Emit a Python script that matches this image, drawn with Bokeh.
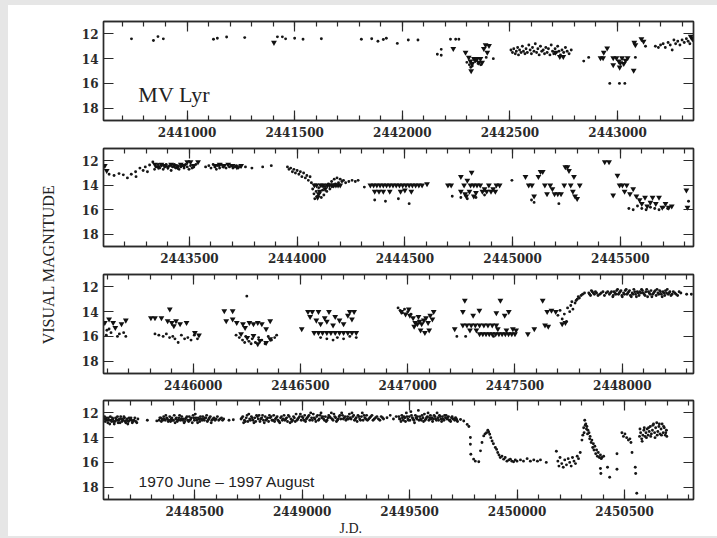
from math import pi
from bokeh.plotting import figure
from bokeh.layouts import row, column
from bokeh.models import (Range1d, LinearAxis, SingleIntervalTicker, FixedTicker,
                          BasicTickFormatter, Label, Title, CustomLabelingPolicy)
from bokeh.embed import file_html
from bokeh.resources import INLINE

JD0 = 2440000

# ---------------- data: (JD - 2440000, visual magnitude) ----------------
p1_dots = [
    (742, 12.40), (844, 12.53), (865, 12.22), (890, 12.40), (1123, 12.43), (1141, 12.35),
    (1184, 12.25), (1268, 12.30), (1420, 12.24), (1443, 12.24), (1458, 12.40), (1500, 12.35),
    (1539, 12.43), (1624, 12.40), (1810, 12.43), (1858, 12.40), (1887, 12.60), (1912, 12.45),
    (1926, 12.35), (1977, 12.77), (2028, 12.50), (2073, 12.50), (2163, 13.65), (2181, 13.25),
    (2181, 13.73), (2224, 12.43), (2248, 12.43), (2263, 12.43),
    (2300, 14.3), (2312, 14.5), (2318, 14.7), (2325, 14.6), (2340, 14.2), (2352, 14.4),
    (2365, 14.5), (2390, 13.9), (2423, 14.0),
    (2505, 13.3), (2512, 13.5), (2518, 13.2), (2525, 13.6), (2530, 13.4), (2536, 13.1),
    (2540, 13.7), (2545, 13.3), (2552, 13.5), (2558, 13.0), (2563, 13.4), (2570, 13.6),
    (2575, 13.2), (2581, 13.5), (2588, 12.9), (2594, 13.3), (2600, 13.6), (2605, 13.1),
    (2612, 13.4), (2618, 12.8), (2624, 13.5), (2630, 13.2), (2636, 13.7), (2642, 13.0),
    (2648, 13.4), (2655, 13.3), (2661, 13.6), (2667, 13.1), (2673, 13.5), (2679, 13.2),
    (2686, 13.7), (2692, 12.9), (2698, 13.4), (2704, 13.6), (2710, 13.2), (2716, 13.5),
    (2722, 13.0), (2728, 13.4), (2735, 13.7), (2742, 13.3), (2750, 13.5), (2758, 13.1),
    (2766, 13.4), (2775, 13.6), (2785, 13.3),
    (2843, 14.2), (2866, 13.9), (2964, 16.0), (3009, 16.0), (3034, 16.0), (3083, 13.9),
    (3130, 13.0), (3176, 13.0), (3190, 13.1), (3200, 12.9), (3212, 12.8), (3222, 13.1),
    (3235, 12.7), (3245, 12.9), (3254, 13.3), (3262, 12.5), (3270, 12.8), (3280, 12.6),
    (3290, 12.9), (3300, 12.5), (3310, 12.7), (3320, 12.4), (3328, 12.6), (3336, 12.8),
    (3345, 12.3),
]
p1_tris = [
    (1404, 12.7), (2237, 13.2), (2294, 13.5), (2309, 13.9), (2317, 14.2), (2325, 14.4),
    (2320, 15.0), (2333, 14.0), (2340, 14.1), (2348, 14.0), (2356, 14.3), (2363, 14.0),
    (2371, 14.3), (2379, 13.2), (2387, 12.9), (2395, 13.5), (2403, 12.95),
    (2712, 13.5), (2732, 13.85), (2748, 13.85),
    (2921, 13.95), (2933, 13.95), (2936, 13.5), (2952, 13.15), (2980, 13.95), (2995, 13.95),
    (2980, 14.5), (3006, 14.2), (3013, 14.35), (3010, 14.7), (3021, 13.95), (3029, 14.4),
    (3037, 14.15), (3047, 13.95), (3075, 14.95), (3078, 12.7), (3083, 12.9), (3111, 12.4),
    (3121, 12.6), (3340, 12.2), (3348, 12.4),
]

p2_dots = [
    (3127, 13.1), (3150, 13.2), (3173, 13.05), (3193, 13.15), (3212, 13.4), (3230, 13.1),
    (3250, 12.9), (3252, 13.3), (3270, 12.6), (3285, 12.8), (3295, 12.5), (3305, 12.9),
    (3315, 12.35), (3330, 12.1), (3338, 12.7),
    (3345, 12.5), (3355, 12.3), (3362, 12.6), (3370, 12.4), (3378, 12.7), (3385, 12.5),
    (3392, 12.3), (3400, 12.6), (3408, 12.4), (3415, 12.8), (3422, 12.5), (3430, 12.3),
    (3437, 12.6), (3445, 12.4), (3452, 12.7), (3460, 12.5), (3468, 12.4), (3475, 12.6),
    (3482, 12.3), (3490, 12.5), (3498, 12.7), (3505, 12.4), (3512, 12.6), (3520, 12.5),
    (3530, 12.3),
    (3575, 12.5), (3590, 12.4), (3600, 12.6), (3610, 12.3), (3618, 12.5), (3625, 12.7),
    (3632, 12.4), (3640, 12.6), (3648, 12.3), (3655, 12.5), (3662, 12.4), (3670, 12.6),
    (3678, 12.3), (3686, 12.5), (3694, 12.4), (3702, 12.6), (3710, 12.5), (3718, 12.4),
    (3726, 12.6), (3736, 12.5), (3760, 12.5), (3790, 12.6), (3840, 12.5), (3880, 12.4),
    (3955, 12.5), (3962, 12.7), (3970, 12.6), (3978, 12.9), (3985, 12.7), (3992, 13.0),
    (4000, 12.8), (4008, 13.1), (4015, 12.9), (4022, 13.3), (4030, 13.0), (4038, 13.4),
    (4045, 13.2), (4052, 13.6), (4060, 13.3), (4066, 13.8),
    (4072, 14.3), (4078, 14.7), (4082, 15.1), (4088, 14.5), (4094, 14.9), (4100, 14.2),
    (4106, 14.6), (4112, 15.0), (4118, 14.4), (4124, 14.8), (4130, 14.1), (4138, 14.5),
    (4145, 13.9), (4152, 14.3), (4160, 13.7), (4166, 14.1), (4172, 13.5), (4178, 13.9),
    (4185, 13.4), (4192, 13.8), (4200, 13.5), (4208, 13.7), (4215, 13.6), (4225, 13.8),
    (4240, 13.7), (4255, 13.6), (4270, 13.7), (4283, 13.6), (4312, 14.15),
    (4360, 15.2), (4410, 15.3), (4470, 15.1), (4520, 15.5),
    (4720, 14.9), (4760, 15.0), (4790, 15.1), (4830, 15.0), (4870, 14.8),
    (4997, 13.6), (5088, 15.2), (5100, 15.4), (5215, 15.5),
    (5540, 15.9), (5560, 16.0), (5580, 15.7), (5600, 15.9), (5620, 16.0), (5640, 15.8),
    (5660, 15.9), (5680, 16.0), (5700, 15.8), (5720, 15.9), (5817, 15.3),
]
p2_tris = [
    (3107, 12.4), (3116, 12.8),
    (3340, 12.3), (3355, 12.5), (3370, 12.3), (3385, 12.4), (3400, 12.5), (3415, 12.3),
    (3430, 12.4), (3445, 12.5), (3460, 12.3), (3475, 12.4), (3490, 12.1), (3505, 12.1),
    (3520, 12.4), (3540, 12.1),
    (3620, 12.4), (3640, 12.3), (3660, 12.4), (3680, 12.3), (3700, 12.4), (3720, 12.5),
    (3740, 12.4),
    (4080, 14.0), (4090, 14.0), (4100, 14.7), (4110, 14.0), (4120, 14.0), (4130, 14.3),
    (4140, 14.0), (4150, 14.0), (4160, 14.0), (4170, 14.0), (4180, 14.0), (4190, 14.0),
    (4200, 14.0), (4105, 14.5), (4095, 15.0),
    (4340, 14.0), (4355, 14.0), (4370, 14.0), (4385, 14.0), (4400, 14.0), (4415, 14.0),
    (4430, 14.0), (4445, 14.0), (4460, 14.0), (4475, 14.0), (4490, 14.0), (4505, 14.0),
    (4520, 14.0), (4535, 14.0), (4550, 14.0), (4565, 14.0), (4580, 14.0), (4603, 13.9),
    (4360, 14.5), (4380, 14.5), (4400, 14.5), (4430, 14.5), (4480, 14.5), (4500, 14.4),
    (4530, 14.5),
    (4700, 14.0), (4715, 14.0), (4760, 13.3), (4790, 13.6), (4775, 14.0), (4805, 14.0),
    (4820, 14.0), (4835, 14.0), (4810, 12.95), (4850, 14.0), (4870, 14.3), (4890, 14.0),
    (4910, 14.3), (4925, 14.0), (4940, 14.0), (4760, 14.5), (4780, 14.7), (4800, 14.5),
    (4830, 14.6), (4860, 14.5), (4880, 14.5), (4900, 14.5), (4920, 14.5), (4785, 14.9),
    (4820, 14.9),
    (5060, 13.3), (5075, 14.0), (5090, 14.0), (5100, 14.9), (5120, 13.3), (5130, 12.9),
    (5140, 12.9), (5150, 14.0), (5160, 14.7), (5175, 14.0), (5185, 14.3), (5195, 14.7),
    (5210, 14.7), (5225, 14.7), (5240, 14.0), (5245, 12.5), (5255, 12.5), (5262, 12.8),
    (5270, 14.0), (5280, 14.5), (5290, 14.9), (5300, 15.1), (5312, 14.0), (5285, 13.3),
    (5428, 12.1), (5448, 12.1), (5487, 13.2), (5467, 14.8), (5497, 14.0), (5510, 14.0),
    (5520, 14.5), (5530, 14.0), (5545, 14.7), (5560, 14.3), (5575, 14.9), (5590, 15.2),
    (5600, 15.5), (5615, 15.0), (5625, 15.7), (5640, 15.4), (5650, 15.0), (5665, 15.5),
    (5680, 15.0), (5695, 15.8), (5710, 15.5), (5725, 15.8), (5739, 15.7),
    (5807, 14.4), (5812, 15.8),
]

p3_dots = [
    (5595, 15.9), (5598, 15.5), (5608, 15.4), (5617, 15.7), (5647, 16.0), (5656, 15.8),
    (5676, 15.7), (5686, 16.0),
    (5822, 15.8), (5840, 15.9), (5860, 16.0), (5875, 15.8), (5890, 16.1), (5905, 16.0),
    (5915, 16.2), (5930, 16.5), (5945, 15.9), (5960, 16.2), (5975, 16.1), (5990, 16.3),
    (6005, 15.9), (6020, 16.2),
    (6200, 15.9), (6215, 16.1), (6230, 16.3), (6245, 16.0), (6260, 16.4), (6275, 16.2),
    (6290, 16.5), (6305, 16.1), (6320, 16.3), (6335, 16.6), (6350, 16.0), (6365, 16.3),
    (6380, 16.1), (6389, 15.9), (6240, 16.5), (6270, 16.6), (6250, 12.75),
    (6594, 16.1), (6623, 16.2), (6652, 16.3), (6672, 16.1), (6701, 16.2), (6730, 16.0),
    (6760, 16.1),
    (6955, 13.7), (6965, 13.9), (6975, 14.1), (6985, 13.8), (7000, 14.0), (7015, 14.2),
    (7229, 16.0), (7270, 16.0), (7400, 16.0),
    (7700, 14.3), (7710, 13.9), (7720, 14.6), (7730, 14.2), (7740, 14.8), (7745, 13.7),
    (7755, 14.0), (7760, 13.5), (7770, 13.8), (7780, 13.3), (7790, 13.0), (7800, 12.9),
    (7808, 12.7), (7815, 12.6), (7824, 12.5), (7765, 13.2), (7785, 13.1), (7795, 12.8),
    (7844, 12.5), (7852, 12.7), (7860, 12.4), (7870, 12.6), (7880, 12.5), (7895, 12.6),
    (7910, 12.4), (7925, 12.5), (7940, 12.6), (7950, 12.4), (7958, 12.7), (7966, 12.5),
    (7974, 12.3), (7982, 12.6), (7990, 12.4), (7998, 12.7), (8006, 12.5), (8014, 12.3),
    (8022, 12.6), (8030, 12.4), (8038, 12.7), (8046, 12.5), (8054, 12.2), (8062, 12.6),
    (8070, 12.4), (8078, 12.7), (8086, 12.5), (8094, 12.3), (8102, 12.6), (8110, 12.4),
    (8118, 12.8), (8126, 12.5), (8134, 12.3), (8142, 12.6), (8150, 12.4), (8158, 12.7),
    (8166, 12.5), (8174, 12.3), (8182, 12.6), (8190, 12.4), (8198, 12.7), (8206, 12.5),
    (8214, 12.6), (8222, 12.4), (8232, 12.6), (8245, 12.5), (8258, 12.7), (8273, 12.5),
    (7956, 12.8), (7978, 12.2), (8000, 12.8), (8018, 12.2), (8042, 12.8), (8066, 12.8),
    (8090, 12.2), (8114, 12.2), (8138, 12.8), (8162, 12.2), (8186, 12.8), (8210, 12.2),
    (8300, 12.6), (8322, 12.6),
    (7848, 12.6), (7856, 12.3), (7865, 12.5), (7875, 12.4), (7887, 12.7), (7902, 12.5),
    (7917, 12.7), (7932, 12.4), (7945, 12.5), (7962, 12.4), (7970, 12.6), (7986, 12.5),
    (7994, 12.3), (8010, 12.6), (8026, 12.5), (8034, 12.3), (8050, 12.6), (8058, 12.4),
    (8074, 12.5), (8082, 12.4), (8098, 12.5), (8106, 12.7), (8122, 12.4), (8130, 12.6),
    (8146, 12.5), (8154, 12.3), (8170, 12.6), (8178, 12.4), (8194, 12.5), (8202, 12.3),
    (8218, 12.5), (8227, 12.7), (8238, 12.4), (8251, 12.6), (8265, 12.4),
]
p3_tris = [
    (5588, 14.9), (5608, 14.6), (5627, 14.9), (5637, 15.3), (5666, 15.0), (5686, 14.7),
    (5803, 14.5), (5822, 14.5), (5852, 14.5), (5891, 13.8), (5881, 14.75), (5900, 14.9),
    (5920, 14.75), (5939, 15.0), (5969, 14.9), (5910, 15.15), (6008, 15.7), (6027, 15.9),
    (6145, 13.95), (6184, 13.95), (6154, 14.75), (6203, 14.9), (6232, 15.0), (6262, 14.9),
    (6281, 15.0), (6301, 14.9), (6320, 15.0), (6242, 15.3), (6340, 15.4), (6359, 14.75),
    (6223, 15.8), (6252, 16.1), (6281, 15.95), (6311, 16.35), (6340, 16.5), (6359, 16.2),
    (6301, 16.6), (6184, 14.6),
    (6535, 14.0), (6555, 14.0), (6584, 14.0), (6633, 14.0), (6730, 14.0), (6750, 14.0),
    (6545, 14.4), (6574, 14.7), (6594, 15.0), (6613, 14.5), (6623, 14.8), (6652, 15.1),
    (6662, 14.4), (6682, 14.7), (6701, 15.0), (6721, 14.3), (6740, 14.6),
    (6564, 15.7), (6584, 15.7), (6603, 15.7), (6623, 15.7), (6642, 15.7), (6662, 15.7),
    (6682, 15.7), (6701, 15.7), (6721, 15.7), (6740, 15.7), (6760, 15.7), (6506, 15.4),
    (6970, 14.0), (6990, 14.2), (7005, 13.8), (7010, 14.3), (7025, 14.5), (7035, 14.9),
    (7045, 15.0), (7055, 14.8), (7065, 15.0), (7075, 14.7), (7085, 14.5), (7095, 14.9),
    (7105, 14.3), (7115, 14.6), (7121, 14.0), (7060, 15.5), (7080, 15.7), (7100, 15.5),
    (7030, 15.2), (7050, 14.4),
    (7219, 15.4),
    (7266, 13.1), (7432, 13.1), (7257, 14.0), (7305, 14.3), (7334, 13.9), (7413, 14.1),
    (7452, 14.3), (7471, 14.0),
    (7257, 15.1), (7276, 15.1), (7296, 15.1), (7315, 15.1), (7335, 15.1), (7355, 15.1),
    (7374, 15.1), (7394, 15.1), (7413, 15.1),
    (7335, 15.8), (7350, 15.8), (7365, 15.8), (7380, 15.8), (7394, 15.8), (7410, 15.8),
    (7425, 15.8), (7440, 15.8), (7455, 15.8), (7470, 15.8), (7485, 15.8), (7500, 15.8),
    (7290, 15.5), (7320, 15.5), (7420, 15.4), (7460, 15.5), (7490, 15.4), (7505, 15.5),
    (7560, 15.8), (7590, 15.4),
    (7629, 13.1), (7650, 14.0), (7670, 13.9), (7690, 14.0), (7640, 15.1), (7655, 15.2),
    (7720, 15.0), (7735, 14.9),
]

p4_dots = [
    (8078, 12.5), (8084, 12.7), (8090, 12.4), (8096, 12.8), (8102, 12.6), (8108, 12.3),
    (8114, 12.7), (8120, 12.5), (8126, 12.9), (8132, 12.4), (8138, 12.6), (8144, 12.8),
    (8150, 12.5), (8156, 12.3), (8162, 12.7), (8168, 12.6), (8174, 12.4), (8180, 12.8),
    (8186, 12.5), (8192, 12.7), (8198, 12.6), (8204, 12.4), (8210, 12.8), (8218, 12.6),
    (8226, 12.7), (8236, 12.5),
    (8081, 12.3), (8093, 12.6), (8105, 12.9), (8117, 12.4), (8129, 12.7), (8141, 12.3),
    (8153, 12.8), (8165, 12.5), (8177, 12.7), (8189, 12.9), (8201, 12.5), (8213, 12.7),
    (8087, 12.5), (8099, 12.4), (8111, 12.6), (8123, 12.7), (8135, 12.5), (8147, 12.6),
    (8159, 12.5), (8171, 12.3), (8183, 12.6), (8195, 12.4), (8207, 12.6), (8222, 12.4),
    (8231, 12.8),
    (8280, 12.6), (8324, 12.65),
    (8335, 12.6), (8342, 12.4), (8349, 12.5), (8356, 12.3), (8363, 12.6), (8370, 12.4),
    (8377, 12.7), (8384, 12.3), (8391, 12.5), (8398, 12.6), (8405, 12.2), (8412, 12.5),
    (8419, 12.7), (8426, 12.4), (8433, 12.6), (8440, 12.3), (8447, 12.5), (8454, 12.7),
    (8461, 12.4), (8468, 12.6), (8475, 12.3), (8482, 12.5), (8489, 12.8), (8496, 12.4),
    (8503, 12.1), (8510, 12.6), (8517, 12.4), (8524, 12.7), (8531, 12.5), (8538, 12.3),
    (8545, 12.6), (8552, 12.4), (8559, 12.7), (8566, 12.5), (8573, 12.3), (8580, 12.6),
    (8590, 12.4), (8600, 12.5), (8612, 12.6), (8625, 12.4), (8635, 12.5),
    (8345, 12.7), (8366, 12.2), (8388, 12.7), (8409, 12.8), (8430, 12.2), (8451, 12.8),
    (8472, 12.7), (8493, 12.2), (8514, 12.8), (8535, 12.6), (8556, 12.2), (8577, 12.8),
    (8338, 12.4), (8352, 12.6), (8359, 12.5), (8373, 12.5), (8380, 12.6), (8394, 12.4),
    (8401, 12.6), (8415, 12.4), (8422, 12.6), (8436, 12.5), (8443, 12.6), (8457, 12.5),
    (8464, 12.3), (8478, 12.6), (8485, 12.4), (8499, 12.6), (8506, 12.4), (8520, 12.5),
    (8527, 12.3), (8541, 12.5), (8548, 12.4), (8562, 12.6), (8569, 12.4), (8585, 12.5),
    (8595, 12.6), (8606, 12.3), (8618, 12.5), (8630, 12.6),
    (8660, 12.6), (8680, 12.55),
    (8716, 12.5), (8724, 12.3), (8732, 12.6), (8740, 12.4), (8748, 12.7), (8756, 12.5),
    (8764, 12.3), (8772, 12.6), (8780, 12.4), (8788, 12.2), (8796, 12.5), (8804, 12.7),
    (8812, 12.4), (8820, 12.6), (8828, 12.3), (8836, 12.5), (8844, 12.7), (8852, 12.4),
    (8860, 12.6), (8868, 12.2), (8876, 12.5), (8884, 12.3), (8892, 12.7), (8900, 12.4),
    (8908, 12.6), (8916, 12.2), (8924, 12.5), (8932, 12.7), (8940, 12.3), (8948, 12.5),
    (8956, 12.6), (8964, 12.4), (8972, 12.1), (8980, 12.5), (8988, 12.3), (8996, 12.6),
    (9004, 12.4), (9012, 12.2), (9020, 12.5), (9028, 12.3), (9036, 12.6), (9044, 12.4),
    (9052, 12.1), (9060, 12.5), (9068, 12.3), (9076, 12.6), (9084, 12.2), (9092, 12.4),
    (9100, 12.5), (9108, 12.3), (9116, 12.6), (9124, 12.2), (9132, 12.4), (9140, 12.5),
    (9148, 12.1), (9156, 12.4), (9164, 12.6), (9172, 12.3), (9180, 12.5), (9188, 12.2),
    (9196, 12.4), (9204, 12.6), (9212, 12.3), (9220, 12.1), (9228, 12.5), (9236, 12.3),
    (9244, 12.6), (9252, 12.4), (9260, 12.2), (9268, 12.5), (9276, 12.3), (9284, 12.6),
    (9292, 12.4), (9300, 12.2), (9310, 12.5), (9320, 12.3), (9330, 12.6), (9342, 12.4),
    (9355, 12.5), (9368, 12.3), (9379, 12.5),
    (8728, 12.8), (8752, 12.1), (8776, 12.8), (8800, 12.2), (8824, 12.8), (8848, 12.2),
    (8872, 12.7), (8896, 12.8), (8920, 12.6), (8944, 12.8), (8968, 12.7), (8992, 12.1),
    (9016, 12.7), (9040, 12.0), (9064, 12.7), (9088, 12.0), (9112, 12.7), (9136, 12.0),
    (9160, 12.7), (9184, 12.0), (9208, 12.5), (9232, 12.0), (9256, 12.7), (9280, 12.0),
    (9304, 12.6),
    (8720, 12.4), (8736, 12.7), (8744, 12.2), (8760, 12.6), (8768, 12.4), (8784, 12.7),
    (8792, 12.3), (8808, 12.5), (8816, 12.2), (8832, 12.6), (8840, 12.4), (8856, 12.3),
    (8864, 12.6), (8880, 12.4), (8888, 12.6), (8904, 12.3), (8912, 12.5), (8928, 12.4),
    (8936, 12.2), (8952, 12.7), (8960, 12.3), (8976, 12.6), (8984, 12.4), (9000, 12.3),
    (9008, 12.6), (9024, 12.4), (9032, 12.2), (9048, 12.6), (9056, 12.4), (9072, 12.2),
    (9080, 12.5), (9096, 12.3), (9104, 12.6), (9120, 12.4), (9128, 12.3), (9144, 12.6),
    (9152, 12.3), (9168, 12.5), (9176, 12.2), (9192, 12.5), (9200, 12.3), (9216, 12.5),
    (9224, 12.4), (9240, 12.2), (9248, 12.5), (9264, 12.3), (9272, 12.6), (9288, 12.2),
    (9296, 12.5), (9315, 12.4), (9325, 12.2), (9336, 12.5), (9348, 12.3), (9362, 12.6),
    (9374, 12.4),
    (9395, 12.4), (9410, 12.2), (9425, 12.5), (9438, 12.3),
    (9450, 12.3), (9457, 12.5), (9464, 12.2), (9471, 12.6), (9478, 12.4), (9485, 12.0),
    (9492, 12.5), (9499, 12.3), (9506, 11.9), (9513, 12.4), (9520, 12.6), (9527, 12.2),
    (9534, 12.5), (9541, 11.8), (9548, 12.3), (9555, 12.6), (9562, 12.4), (9569, 12.1),
    (9576, 12.5), (9583, 12.3), (9590, 12.6), (9597, 12.2), (9604, 12.4), (9611, 12.5),
    (9618, 12.3), (9625, 12.6), (9632, 12.4), (9639, 12.2), (9646, 12.5), (9653, 12.3),
    (9660, 12.6), (9667, 12.4), (9674, 12.5), (9681, 12.3), (9688, 12.6), (9695, 12.4),
    (9702, 12.5), (9710, 12.6), (9718, 12.5), (9723, 12.7),
    (9460, 12.7), (9481, 12.7), (9502, 12.6), (9523, 12.8), (9544, 12.6), (9565, 12.7),
    (9586, 12.0), (9607, 12.7), (9628, 12.0), (9649, 12.7), (9670, 12.2), (9691, 12.7),
    (9453, 12.5), (9467, 12.4), (9474, 12.3), (9488, 12.3), (9495, 12.6), (9509, 12.2),
    (9516, 12.5), (9530, 12.4), (9537, 12.3), (9551, 12.5), (9558, 12.2), (9572, 12.6),
    (9579, 12.4), (9593, 12.4), (9600, 12.5), (9614, 12.2), (9621, 12.5), (9635, 12.6),
    (9642, 12.3), (9656, 12.5), (9663, 12.2), (9677, 12.4), (9684, 12.6), (9698, 12.3),
    (9706, 12.5), (9714, 12.4), (9720, 12.6),
    (9737, 12.53), (9752, 12.66), (9768, 12.93), (9776, 13.1), (9783, 13.99), (9783, 14.53),
    (9785, 15.34), (9798, 15.74), (9806, 15.9), (9822, 15.95), (9830, 15.07), (9837, 14.4),
    (9845, 13.86), (9851, 13.7), (9858, 13.6), (9864, 13.4), (9868, 13.55), (9873, 13.73),
    (9878, 14.0), (9884, 14.27), (9890, 14.5), (9899, 14.8), (9905, 14.95), (9910, 15.2),
    (9916, 15.4), (9922, 15.6), (9930, 15.5), (9938, 15.74), (9945, 15.6), (9953, 15.9),
    (9962, 15.8), (9969, 15.74), (9976, 15.9), (9984, 15.95), (9992, 15.8), (10000, 15.9),
    (10016, 15.8), (10030, 15.9), (10047, 15.7), (10062, 15.9), (10078, 15.8), (10095, 15.9),
    (10109, 15.8), (10136, 16.0), (10183, 15.1),
    (10190, 15.9), (10195, 16.3), (10200, 15.6), (10208, 16.1), (10215, 16.4), (10222, 15.8),
    (10230, 16.2), (10238, 15.7), (10245, 16.0), (10252, 16.3), (10258, 15.6), (10265, 15.9),
    (10272, 16.1), (10280, 15.5), (10286, 15.7), (10294, 15.2), (10302, 14.2), (10306, 13.8),
    (10310, 13.2), (10312, 13.6), (10315, 12.6), (10317, 13.0), (10320, 12.9), (10323, 13.3),
    (10325, 13.1), (10328, 13.7), (10330, 13.4), (10335, 13.6), (10338, 14.1), (10340, 13.9),
    (10345, 14.4), (10348, 14.2), (10352, 14.8), (10355, 14.5), (10358, 15.0), (10362, 14.7),
    (10366, 15.3), (10370, 15.0), (10374, 15.5), (10378, 15.2), (10383, 15.6), (10388, 15.4),
    (10392, 15.7), (10395, 15.6), (10403, 15.5), (10388, 16.5), (10390, 16.9), (10431, 17.2),
    (10421, 16.4), (10465, 15.3), (10465, 16.55),
    (10488, 13.6), (10495, 13.9), (10502, 13.7), (10510, 14.0), (10518, 14.2), (10525, 14.1),
    (10530, 14.4), (10535, 15.2), (10550, 16.4), (10552, 16.9), (10557, 18.5),
    (10570, 13.9), (10575, 13.6), (10580, 14.1), (10585, 13.8), (10590, 13.4), (10595, 13.9),
    (10600, 13.6), (10605, 13.3), (10610, 13.8), (10615, 13.5), (10620, 13.1), (10625, 13.7),
    (10630, 13.4), (10635, 12.9), (10640, 13.6), (10645, 13.2), (10650, 12.8), (10655, 13.5),
    (10660, 13.1), (10665, 13.7), (10670, 13.3), (10675, 12.9), (10680, 13.6), (10685, 13.2),
    (10690, 13.8), (10695, 13.4), (10697, 13.9),
    (10572, 13.3), (10582, 14.3), (10592, 13.2), (10602, 14.0), (10612, 13.2), (10622, 13.9),
    (10632, 13.0), (10642, 14.0), (10652, 13.8), (10662, 12.9), (10672, 13.8), (10682, 13.1),
    (10692, 13.6),
]
p4_tris = []

# panel JD limits
panel_ranges = [(2440612, 2443353), (2443101, 2445840), (2445582, 2448332), (2448076, 2450821)]
y_ticks = [12, 14, 16, 18]

INK = "#2a2a2a"
TICK_FONT = "DejaVu Serif"

NO_LABELS = "const ids = [...indices]; for (const i of ids) { indices.unset(i) }; return indices"


def make_panel(xr, height, top, bottom, dots, tris):
    p = figure(width=657, height=height, x_range=Range1d(*xr), y_range=Range1d(19, 11),
               output_backend="svg", toolbar_location=None,
               min_border_left=43, min_border_right=24,
               min_border_top=top, min_border_bottom=bottom,
               background_fill_color="white", border_fill_color="white",
               outline_line_color=INK, outline_line_width=1.4)
    p.grid.visible = False

    def style_x(ax, labels):
        ax.ticker = SingleIntervalTicker(interval=500, num_minor_ticks=5)
        ax.formatter = BasicTickFormatter(use_scientific=False)
        ax.axis_line_color = INK
        ax.axis_line_width = 1.4
        ax.major_tick_in = 10
        ax.major_tick_out = 0
        ax.minor_tick_in = 5
        ax.minor_tick_out = 0
        ax.major_tick_line_color = INK
        ax.minor_tick_line_color = INK
        ax.major_tick_line_width = 1.2
        ax.minor_tick_line_width = 1.2
        if labels:
            ax.major_label_text_font = TICK_FONT
            ax.major_label_text_font_style = "bold"
            ax.major_label_text_font_size = "12px"
            ax.major_label_text_color = INK
            ax.major_label_standoff = 6
        else:
            ax.major_label_text_font_size = "0px"
            ax.major_label_standoff = 0
            ax.major_label_policy = CustomLabelingPolicy(code=NO_LABELS)

    def style_y(ax, labels):
        ax.ticker = FixedTicker(ticks=y_ticks, minor_ticks=[])
        ax.axis_line_color = INK
        ax.axis_line_width = 1.4
        ax.major_tick_in = 10
        ax.major_tick_out = 0
        ax.major_tick_line_color = INK
        ax.major_tick_line_width = 1.2
        if labels:
            ax.major_label_text_font = TICK_FONT
            ax.major_label_text_font_style = "bold"
            ax.major_label_text_font_size = "12px"
            ax.major_label_text_color = INK
            ax.major_label_standoff = 5
        else:
            ax.major_label_text_font_size = "0px"
            ax.major_label_standoff = 0
            ax.major_label_policy = CustomLabelingPolicy(code=NO_LABELS)

    style_x(p.xaxis[0], True)
    style_y(p.yaxis[0], True)
    top_ax = LinearAxis()
    style_x(top_ax, False)
    p.add_layout(top_ax, "above")
    right_ax = LinearAxis()
    style_y(right_ax, False)
    p.add_layout(right_ax, "right")

    if dots:
        dx = [JD0 + d[0] for d in dots]
        dy = [d[1] for d in dots]
        p.scatter(dx, dy, marker="circle", size=2.9, fill_color="#161616", line_color=None)
    if tris:
        tx = [JD0 + t[0] for t in tris]
        ty = [t[1] for t in tris]
        p.scatter(tx, ty, marker="inverted_triangle", size=5.8, fill_color="#111111",
                  line_color=None)
    return p


p1 = make_panel(panel_ranges[0], 142, 16, 27, p1_dots, p1_tris)
p2 = make_panel(panel_ranges[1], 126, 1, 27, p2_dots, p2_tris)
p3 = make_panel(panel_ranges[2], 126, 1, 26, p3_dots, p3_tris)
p4 = make_panel(panel_ranges[3], 137, 1, 37, p4_dots, p4_tris)

p1.add_layout(Label(x=2440774, y=16.9, text="MV Lyr", text_font="Liberation Serif",
                    text_font_size="22px", text_color="#222222", text_baseline="alphabetic"))
p4.add_layout(Label(x=2448239, y=17.55, text="1970 June \u2013 1997 August",
                    text_font="Liberation Sans", text_font_size="15.5px",
                    text_color="#222222", text_baseline="alphabetic"))
p4.add_layout(Title(text="J.D.", align="left", offset=236, standoff=0,
                    text_font="Liberation Serif", text_font_size="14px",
                    text_font_style="normal", text_color="#222222"), "below")

lab = figure(width=52, height=531, x_range=Range1d(0, 52), y_range=Range1d(0, 531),
             output_backend="svg", toolbar_location=None, min_border=0,
             background_fill_color="white", border_fill_color="white",
             outline_line_color=None)
lab.axis.visible = False
lab.grid.visible = False
lab.add_layout(Label(x=40, y=272, text="VISUAL MAGNITUDE", angle=pi / 2,
                     text_font="Liberation Serif", text_font_size="16px",
                     text_color="#222222", text_align="center", text_baseline="middle"))

panels = column(p1, p2, p3, p4, styles={"background-color": "white"})
inner = row(lab, panels, styles={"background-color": "white"})
inner.margin = (5, 0, 2, 8)

root = column(inner, styles={"background-color": "#e6e6e6"})

open("out.html", "w").write(file_html(root, INLINE))
